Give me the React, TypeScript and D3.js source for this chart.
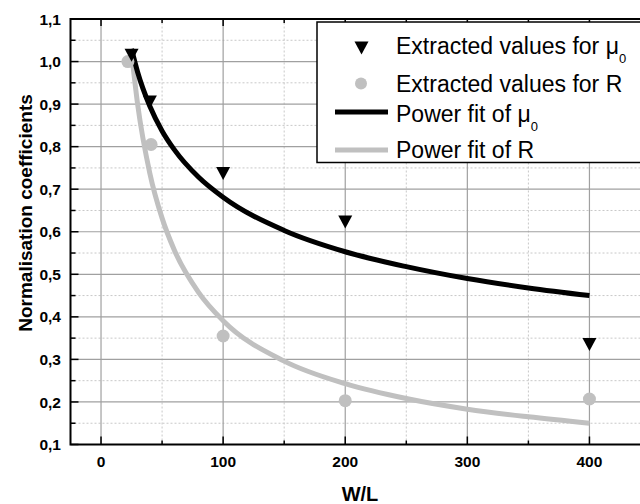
import React from "react";
import * as d3 from "d3";

const muX = [25, 40, 100, 200, 400];
const muY = [1.015, 0.905, 0.737, 0.623, 0.335];
const rX = [22, 41, 100, 200, 400];
const rY = [1.0, 0.805, 0.355, 0.203, 0.207];
// power-fit curves
const fitX = [25, 30, 40, 50, 60, 80, 100, 150, 200, 250, 300, 350, 400];
const muFitY = [1.03, 0.975, 0.895, 0.837, 0.793, 0.728, 0.681, 0.603, 0.553, 0.518, 0.49, 0.468, 0.45];
const rFitY = [1.02, 0.899, 0.737, 0.632, 0.557, 0.457, 0.391, 0.296, 0.243, 0.208, 0.183, 0.165, 0.15];
const xTicks = [0, 100, 200, 300, 400];
const xMinor = [50, 150, 250, 350];
const yTicks = [0.1, 0.2, 0.3, 0.4, 0.5, 0.6, 0.7, 0.8, 0.9, 1.0, 1.1];
const yMinor = [0.15, 0.25, 0.35, 0.45, 0.55, 0.65, 0.75, 0.85, 0.95, 1.05];

const GRAY = "#c0c0c0";
const FONT = "'Liberation Sans', Arial, sans-serif";

export default function App() {
  const x = d3.scaleLinear().domain([-25, 450]).range([70.5, 650.5]);
  const y = d3.scaleLinear().domain([0.1, 1.1]).range([444.5, 19]);
  const [x0, x1] = x.range();
  const [yb, yt] = y.range();
  const line = d3
    .line<[number, number]>()
    .x((d) => x(d[0]))
    .y((d) => y(d[1]))
    .curve(d3.curveMonotoneX);
  const muFit = fitX.map((v, i) => [v, muFitY[i]] as [number, number]);
  const rFit = fitX.map((v, i) => [v, rFitY[i]] as [number, number]);
  const fmt = (v: number) => v.toFixed(1).replace(".", ",");
  const tri = (cx: number, cy: number) =>
    `M${cx - 7},${cy - 6.5}L${cx + 7},${cy - 6.5}L${cx},${cy + 6.5}Z`;

  return (
    <svg
      width={640}
      height={504}
      style={{ position: "absolute", left: 0, top: 0, background: "#fff" }}
      fontFamily={FONT}
    >
      <rect x={0} y={0} width={640} height={504} fill="#fff" />
      {/* minor grid */}
      {yMinor.map((v) => (
        <line key={"ym" + v} x1={x0} x2={x1} y1={y(v)} y2={y(v)} stroke="#c8c8c8" strokeWidth={1} strokeDasharray="2,2" />
      ))}
      {xMinor.map((v) => (
        <line key={"xm" + v} x1={x(v)} x2={x(v)} y1={yb} y2={yt} stroke="#c8c8c8" strokeWidth={1} strokeDasharray="2,2" />
      ))}
      {/* major grid */}
      {yTicks.slice(1, -1).map((v) => (
        <line key={"yg" + v} x1={x0} x2={x1} y1={y(v)} y2={y(v)} stroke="#a0a0a0" strokeWidth={1.2} />
      ))}
      {xTicks.map((v) => (
        <line key={"xg" + v} x1={x(v)} x2={x(v)} y1={yb} y2={yt} stroke="#a0a0a0" strokeWidth={1.2} />
      ))}
      {/* ticks */}
      {yTicks.map((v) => (
        <line key={"yt" + v} x1={x0} x2={x0 + 8} y1={y(v)} y2={y(v)} stroke="#000" strokeWidth={1.5} />
      ))}
      {yMinor.map((v) => (
        <line key={"ytm" + v} x1={x0} x2={x0 + 5} y1={y(v)} y2={y(v)} stroke="#000" strokeWidth={1.5} />
      ))}
      {xTicks.map((v) => (
        <g key={"xt" + v}>
          <line x1={x(v)} x2={x(v)} y1={yb} y2={yb - 8} stroke="#000" strokeWidth={1.5} />
          <line x1={x(v)} x2={x(v)} y1={yt} y2={yt + 7} stroke="#000" strokeWidth={1.5} />
        </g>
      ))}
      {xMinor.map((v) => (
        <g key={"xtm" + v}>
          <line x1={x(v)} x2={x(v)} y1={yb} y2={yb - 4} stroke="#000" strokeWidth={1.5} />
          <line x1={x(v)} x2={x(v)} y1={yt} y2={yt + 4} stroke="#000" strokeWidth={1.5} />
        </g>
      ))}
      {/* frame */}
      <rect x={x0} y={yt} width={x1 - x0} height={yb - yt} fill="none" stroke="#000" strokeWidth={2} />

      {/* fits */}
      <path d={line(rFit) || ""} fill="none" stroke={GRAY} strokeWidth={5} />
      <path d={line(muFit) || ""} fill="none" stroke="#000" strokeWidth={5} />
      {/* points */}
      {rX.map((v, i) => (
        <circle key={"r" + i} cx={x(v)} cy={y(rY[i])} r={6.5} fill={GRAY} />
      ))}
      {muX.map((v, i) => (
        <path key={"m" + i} d={tri(x(v), y(muY[i]))} fill="#000" />
      ))}

      {/* tick labels */}
      {yTicks.map((v) => (
        <text key={"yl" + v} x={61} y={y(v) + 5.6} textAnchor="end" fontSize={15.5} fontWeight="bold">
          {fmt(v)}
        </text>
      ))}
      {xTicks.map((v) => (
        <text key={"xl" + v} x={x(v)} y={467} textAnchor="middle" fontSize={15.5} fontWeight="bold">
          {v}
        </text>
      ))}
      <text x={360} y={500.5} textAnchor="middle" fontSize={20} fontWeight="bold">
        W/L
      </text>
      <text transform="translate(32,213) rotate(-90)" textAnchor="middle" fontSize={19} fontWeight="bold">
        Normalisation coefficients
      </text>

      {/* legend */}
      <rect x={317} y={22} width={340} height={140.5} fill="#fff" stroke="#000" strokeWidth={1.5} />
      <path d={tri(361.5, 48)} fill="#000" />
      <text x={396} y={54.3} fontSize={23}>
        Extracted values for μ<tspan fontSize={13} dy={9}>0</tspan>
      </text>
      <circle cx={361} cy={83.5} r={6} fill={GRAY} />
      <text x={396} y={91.5} fontSize={23}>
        Extracted values for R
      </text>
      <line x1={335} x2={388} y1={112} y2={112} stroke="#000" strokeWidth={5} />
      <text x={396} y={121.7} fontSize={23}>
        Power fit of μ<tspan fontSize={13} dy={9}>0</tspan>
      </text>
      <line x1={335} x2={388} y1={150} y2={150} stroke={GRAY} strokeWidth={5} />
      <text x={396} y={157.7} fontSize={23}>
        Power fit of R
      </text>
    </svg>
  );
}
